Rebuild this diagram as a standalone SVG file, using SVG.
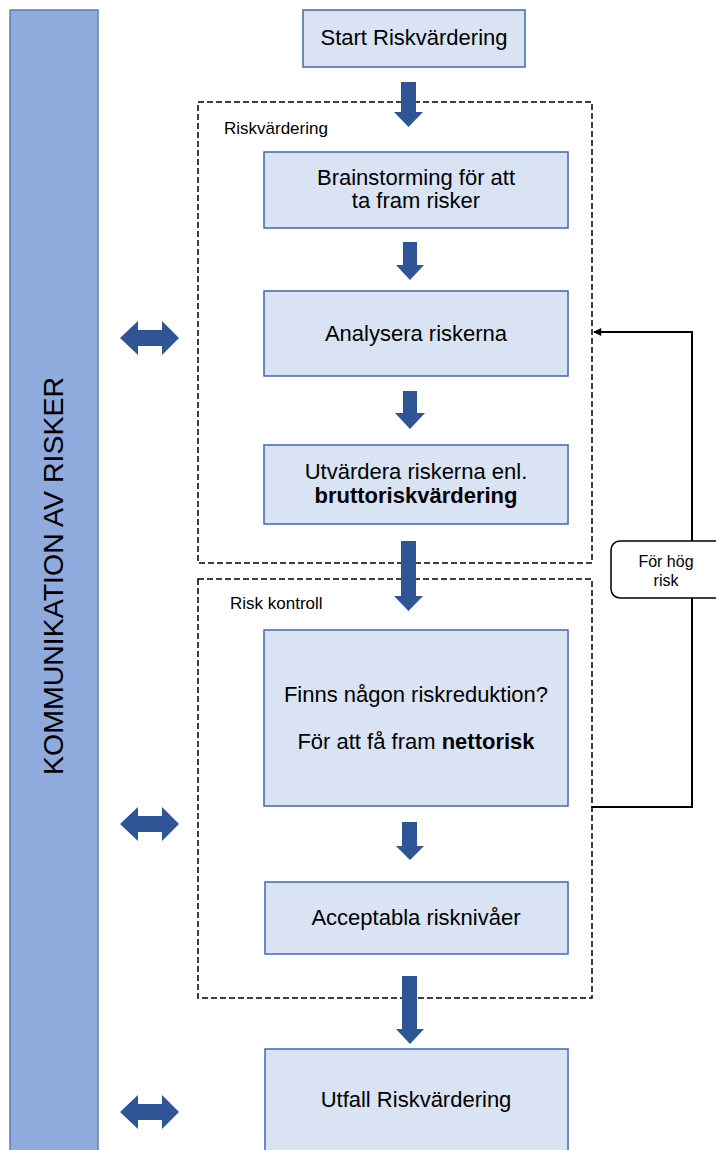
<svg xmlns="http://www.w3.org/2000/svg" width="716" height="1150" viewBox="0 0 716 1150">
<defs>
<style>
.box{fill:#DAE3F3;stroke:#4068AE;stroke-width:1.5}
.bar{fill:#8FAADC;stroke:#5B7DB8;stroke-width:1.5}
.grp{fill:none;stroke:#000;stroke-width:1.5;stroke-dasharray:6 3}
.t{font-family:"Liberation Sans",Arial,sans-serif;font-size:22px;fill:#000;text-anchor:middle}
.lbl{font-family:"Liberation Sans",Arial,sans-serif;font-size:17px;fill:#000}
.b{font-weight:bold}
.blk{fill:#2F5597}
.fb{fill:none;stroke:#000;stroke-width:2}
</style>
<marker id="ah" viewBox="0 0 10 10" refX="9" refY="5" markerWidth="10" markerHeight="8" markerUnits="userSpaceOnUse" orient="auto"><path d="M0,0 L10,5 L0,10 Z" fill="#000"/></marker>
</defs>
<rect width="716" height="1150" fill="#fff"/>

<g id="komm">
<rect class="bar" x="10" y="10" width="88" height="1160"/>
<text class="t" style="font-size:28.5px" transform="translate(63,576) rotate(-90)" x="0" y="0">KOMMUNIKATION AV RISKER</text>
</g>

<g id="grp-riskvardering">
<rect class="grp" x="198" y="102" width="394" height="461"/>
<text class="lbl" x="224" y="134">Riskvärdering</text>
</g>
<g id="grp-riskkontroll">
<rect class="grp" x="198" y="579" width="394" height="419"/>
<text class="lbl" x="230" y="609">Risk kontroll</text>
</g>

<g id="start">
<rect class="box" x="303" y="10" width="222" height="57"/>
<text class="t" x="414" y="45">Start Riskvärdering</text>
</g>
<g id="brainstorm">
<rect class="box" x="264" y="152" width="304" height="76"/>
<text class="t" x="416" y="185">Brainstorming för att</text>
<text class="t" x="416" y="208">ta fram risker</text>
</g>
<g id="analysera">
<rect class="box" x="264" y="291" width="304" height="85"/>
<text class="t" x="416" y="341">Analysera riskerna</text>
</g>
<g id="utvardera">
<rect class="box" x="264" y="445" width="304" height="79"/>
<text class="t" x="416" y="479">Utvärdera riskerna enl.</text>
<text class="t b" x="416" y="503">bruttoriskvärdering</text>
</g>
<g id="finns">
<rect class="box" x="264" y="630" width="304" height="176"/>
<text class="t" x="416" y="702">Finns någon riskreduktion?</text>
<text class="t" x="416" y="749">För att få fram <tspan class="b">nettorisk</tspan></text>
</g>
<g id="acceptabla">
<rect class="box" x="265" y="882" width="303" height="72"/>
<text class="t" x="416" y="925">Acceptabla risknivåer</text>
</g>
<g id="utfall">
<rect class="box" x="265" y="1049" width="303" height="120"/>
<text class="t" x="416" y="1107">Utfall Riskvärdering</text>
</g>

<g id="connectors">
<path class="blk" d="M401,82 H416 V112 H423 L408.5,127 L394,112 H401 Z"/>
<path class="blk" d="M403,242 H417 V265 H424 L410,280 L396,265 H403 Z"/>
<path class="blk" d="M403,391 H417 V413 H425 L410,429 L395,413 H403 Z"/>
<path class="blk" d="M401,541 H416 V596 H423 L408.5,611 L394,596 H401 Z"/>
<path class="blk" d="M402,822 H417 V846 H424 L410,860 L396,846 H402 Z"/>
<path class="blk" d="M402,976 H417 V1029 H424 L410,1044 L396,1029 H402 Z"/>
<path class="blk" d="M120,338 L138,321 V330 H162 V321 L179,338 L162,355 V346 H138 V355 Z"/>
<path class="blk" d="M120,824 L138,807 V816 H162 V807 L179,824 L162,841 V832 H138 V841 Z"/>
<path class="blk" d="M120,1112 L138,1095 V1104 H162 V1095 L179,1112 L162,1129 V1120 H138 V1129 Z"/>
<path class="fb" d="M591,807 H692 V332 H594" marker-end="url(#ah)"/>
</g>

<g id="hog-risk">
<rect x="611" y="541" width="115" height="57" rx="9" fill="#fff" stroke="#000" stroke-width="1.5"/>
<text class="lbl" style="font-size:16px" x="666" y="567" text-anchor="middle">För hög</text>
<text class="lbl" style="font-size:16px" x="666" y="586" text-anchor="middle">risk</text>
</g>
</svg>
